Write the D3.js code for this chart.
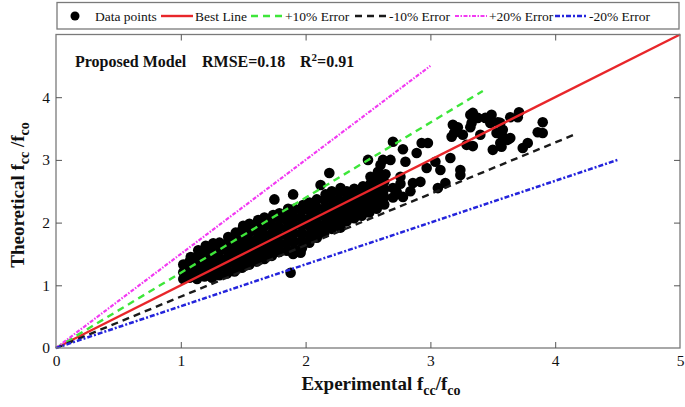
<!DOCTYPE html>
<html>
<head>
<meta charset="utf-8">
<script src="https://cdn.jsdelivr.net/npm/d3@7"></script>
<style>
  html, body { margin: 0; padding: 0; background: #fff; }
  svg { display: block; font-family: "Liberation Serif", "Times New Roman", serif; }
</style>
</head>
<body>
<svg id="chart" width="685" height="407"></svg>
<script>
// ---------------- DATA ----------------
const xTicks = [0, 1, 2, 3, 4, 5];
const yTicks = [0, 1, 2, 3, 4, 5];

// Experimental vs theoretical f_cc/f_co
const dataPoints = [
  [1.02,1.10],[1.02,1.21],[1.02,1.33],
  [1.07,1.12],[1.07,1.25],[1.07,1.38],[1.08,1.45],
  [1.13,1.10],[1.13,1.22],[1.13,1.34],[1.13,1.46],[1.14,1.56],
  [1.19,1.14],[1.19,1.27],[1.19,1.40],[1.19,1.52],[1.20,1.63],
  [1.25,1.12],[1.25,1.24],[1.25,1.36],[1.25,1.48],[1.25,1.60],[1.26,1.67],
  [1.31,1.16],[1.31,1.29],[1.31,1.42],[1.31,1.55],[1.31,1.68],
  [1.37,1.19],[1.37,1.31],[1.37,1.43],[1.37,1.55],[1.37,1.67],[1.38,1.77],
  [1.43,1.22],[1.43,1.35],[1.43,1.48],[1.43,1.61],[1.43,1.74],[1.44,1.84],
  [1.49,1.28],[1.49,1.40],[1.49,1.52],[1.49,1.64],[1.49,1.76],[1.49,1.88],[1.50,1.95],
  [1.55,1.33],[1.55,1.46],[1.55,1.59],[1.55,1.72],[1.55,1.85],[1.55,1.98],
  [1.61,1.38],[1.61,1.50],[1.61,1.62],[1.61,1.74],[1.61,1.86],[1.61,1.97],[1.62,2.04],
  [1.67,1.42],[1.67,1.55],[1.67,1.68],[1.67,1.81],[1.67,1.94],[1.67,2.08],
  [1.73,1.47],[1.73,1.59],[1.73,1.71],[1.73,1.83],[1.73,1.95],[1.73,2.06],[1.74,2.12],
  [1.79,1.53],[1.79,1.66],[1.79,1.79],[1.79,1.92],[1.79,2.05],[1.79,2.15],
  [1.85,1.55],[1.85,1.67],[1.85,1.79],[1.85,1.91],[1.85,2.03],[1.85,2.14],[1.86,2.22],
  [1.91,1.57],[1.91,1.70],[1.91,1.83],[1.91,1.96],[1.91,2.09],[1.91,2.22],
  [1.97,1.59],[1.97,1.71],[1.97,1.83],[1.97,1.95],[1.97,2.07],[1.97,2.19],[1.98,2.28],
  [2.03,1.68],[2.03,1.81],[2.03,1.94],[2.03,2.07],[2.03,2.20],[2.03,2.32],
  [2.09,1.76],[2.09,1.88],[2.09,2.00],[2.09,2.12],[2.09,2.24],[2.09,2.37],
  [2.15,1.84],[2.15,1.97],[2.15,2.10],[2.15,2.23],[2.15,2.36],[2.16,2.45],
  [2.21,1.90],[2.21,2.02],[2.21,2.14],[2.21,2.26],[2.21,2.38],[2.21,2.50],
  [2.27,1.96],[2.27,2.09],[2.27,2.22],[2.27,2.35],[2.27,2.48],[2.28,2.55],
  [2.33,2.02],[2.33,2.14],[2.33,2.26],[2.33,2.38],[2.33,2.50],
  [2.39,2.07],[2.39,2.19],[2.39,2.31],[2.39,2.43],[2.39,2.54],
  [2.45,2.11],[2.45,2.24],[2.45,2.37],[2.45,2.50],[2.46,2.58],
  [2.51,2.16],[2.51,2.28],[2.51,2.40],[2.51,2.52],[2.52,2.62],
  [2.57,2.22],[2.57,2.35],[2.57,2.48],[2.57,2.61],[2.58,2.71],
  [2.63,2.29],[2.63,2.41],[2.63,2.53],[2.63,2.65],[2.64,2.77],
  [1.90,1.50],[1.96,1.52],[2.28,1.92],[2.70,2.40],[2.73,2.49],[2.78,2.41],
  [2.70,2.55],[2.76,2.62],[2.84,2.50],
  [1.75,2.37],[1.90,2.45],[2.19,2.79],[2.12,2.60],[2.50,3.00],[2.62,3.00],[2.68,3.00],
  [2.52,2.73],[2.58,2.81],[2.76,2.73],[2.60,2.92],[2.70,3.29],[2.78,3.17],[2.89,3.11],[2.80,2.97],
  [2.93,3.27],[2.98,3.27],[2.97,2.87],[3.04,2.97],[3.16,3.03],[3.08,2.84],[3.24,2.84],[3.24,2.76],
  [3.12,2.63],[2.92,2.65],[2.86,2.63],[3.06,2.55],
  [3.20,3.52],[3.19,3.43],[3.32,3.72],[3.32,3.52],[3.34,3.22],
  [3.34,3.75],[3.33,3.59],[3.38,3.67],[3.49,3.72],[3.48,3.59],[3.44,3.67],[3.54,3.60],
  [3.64,3.68],[3.71,3.76],[3.70,3.68],
  [3.56,3.59],[3.58,3.48],[3.53,3.43],[3.58,3.37],[3.62,3.32],[3.56,3.27],[3.57,3.21],
  [3.50,3.16],[3.40,3.40],[3.26,3.40],[3.29,3.24],
  [3.90,3.60],[3.86,3.44],[3.90,3.43],[3.78,3.27],[3.74,3.19],[3.64,3.35],[3.17,3.37],
  [3.22,3.52],[3.18,3.56],
  [1.88,1.20]
];

// Reference lines: endpoints in data units
const lineNames  = ["Best Line", "+10% Error", "-10% Error", "+20% Error", "-20% Error"];
const lineX      = [[0, 5], [0, 3.42], [0, 4.15], [0, 3.0], [0, 4.5]];
const lineY      = [[0, 5], [0, 4.10], [0, 3.40], [0, 4.5], [0, 3.0]];
const lineColors = ["#e8262a", "#3ee63a", "#1a1a1a", "#f23af2", "#2424dc"];
const lineDash   = [null, "7,5", "7,5", "4,1.5,1.5,1.5", "5,2,2,2"];
const lineWidth  = [2.4, 2.4, 2.4, 2.2, 2.5];

const legendLabels = ["Data points", "Best Line", "+10% Error", "-10% Error", "+20% Error", "-20% Error"];

// ---------------- CHART ----------------
const svg = d3.select("#chart");
const pL = 56, pR = 680, pT = 34.5, pB = 348;

const x = d3.scaleLinear().domain([0, 5]).range([pL, pR]);
const y = d3.scaleLinear().domain([0, 5]).range([pB, pT]);

// points
svg.append("g").selectAll("circle").data(dataPoints).join("circle")
  .attr("cx", d => x(d[0])).attr("cy", d => y(d[1]))
  .attr("r", 5.3).attr("fill", "#000");

// lines
const lg = svg.append("g");
lineNames.forEach((n, i) => {
  const pts = lineX[i].map((v, j) => [v, lineY[i][j]]);
  lg.append("path")
    .attr("d", d3.line().x(d => x(d[0])).y(d => y(d[1]))(pts))
    .attr("fill", "none")
    .attr("stroke", lineColors[i])
    .attr("stroke-width", lineWidth[i])
    .attr("stroke-dasharray", lineDash[i]);
});

// frame
svg.append("rect")
  .attr("x", pL).attr("y", pT)
  .attr("width", pR - pL).attr("height", pB - pT)
  .attr("fill", "none").attr("stroke", "#7a7a7a").attr("stroke-width", 1.3);

// axes
const axB = svg.append("g").attr("transform", `translate(0,${pB})`)
  .call(d3.axisBottom(x).tickValues(xTicks).tickFormat(d3.format("d")).tickSize(-6).tickPadding(7));
const axL = svg.append("g").attr("transform", `translate(${pL},0)`)
  .call(d3.axisLeft(y).tickValues(yTicks.slice(0, 5)).tickFormat(d3.format("d")).tickSize(-6).tickPadding(6));
const axT = svg.append("g").attr("transform", `translate(0,${pT})`)
  .call(d3.axisTop(x).tickValues(xTicks.slice(1, 5)).tickFormat("").tickSize(-6));
const axR = svg.append("g").attr("transform", `translate(${pR},0)`)
  .call(d3.axisRight(y).tickValues(yTicks.slice(1, 5)).tickFormat("").tickSize(-6));
[axB, axL, axT, axR].forEach(a => {
  a.select(".domain").remove();
  a.selectAll(".tick line").attr("stroke", "#555").attr("stroke-width", 1);
  a.selectAll(".tick text").attr("font-family", "Liberation Serif, serif")
    .attr("font-size", 15.5).attr("fill", "#111");
});
axB.selectAll(".tick").filter(d => d === 0 || d === 5).select("line").remove();
axL.selectAll(".tick").filter(d => d === 0).select("line").remove();

// legend
const leg = svg.append("g");
leg.append("rect").attr("x", 57).attr("y", 2.5).attr("width", 622).attr("height", 26.5)
  .attr("fill", "#fff").attr("stroke", "#7a7a7a").attr("stroke-width", 1.3);
leg.append("circle").attr("cx", 75).attr("cy", 16).attr("r", 4.5).attr("fill", "#000");
const symX = [161, 251, 355, 455, 555];
symX.forEach((sx, i) => {
  leg.append("line").attr("x1", sx).attr("x2", sx + 32).attr("y1", 16).attr("y2", 16)
    .attr("stroke", lineColors[i]).attr("stroke-width", lineWidth[i])
    .attr("stroke-dasharray", lineDash[i]);
});
const textX = [95, 195, 285, 389, 489, 589];
legendLabels.forEach((t, i) => {
  leg.append("text").attr("x", textX[i]).attr("y", 20.5)
    .attr("font-size", 13.5).attr("fill", "#111").text(t);
});

// annotation
const ann = svg.append("text").attr("x", 75).attr("y", 67)
  .attr("font-size", 16).attr("font-weight", "bold").attr("fill", "#111");
ann.append("tspan").text("Proposed Model");
ann.append("tspan").attr("x", 202).text("RMSE=0.18");
ann.append("tspan").attr("x", 300).text("R");
ann.append("tspan").attr("dy", -6).attr("font-size", 11).text("2");
ann.append("tspan").attr("dy", 6).text("=0.91");

// x label
const xl = svg.append("text").attr("x", 381).attr("y", 390)
  .attr("text-anchor", "middle").attr("font-size", 19).attr("font-weight", "bold").attr("fill", "#111");
xl.append("tspan").text("Experimental f");
xl.append("tspan").attr("dy", 5).attr("font-size", 14).text("cc");
xl.append("tspan").attr("dy", -5).text("/f");
xl.append("tspan").attr("dy", 5).attr("font-size", 14).text("co");

// y label
const yl = svg.append("text").attr("transform", "translate(24,195) rotate(-90)")
  .attr("text-anchor", "middle").attr("font-size", 19).attr("font-weight", "bold").attr("fill", "#111");
yl.append("tspan").text("Theoretical f");
yl.append("tspan").attr("dy", 5).attr("font-size", 14).text("cc");
yl.append("tspan").attr("dy", -5).text(" /f");
yl.append("tspan").attr("dy", 5).attr("font-size", 14).text("co");
</script>
</body>
</html>
